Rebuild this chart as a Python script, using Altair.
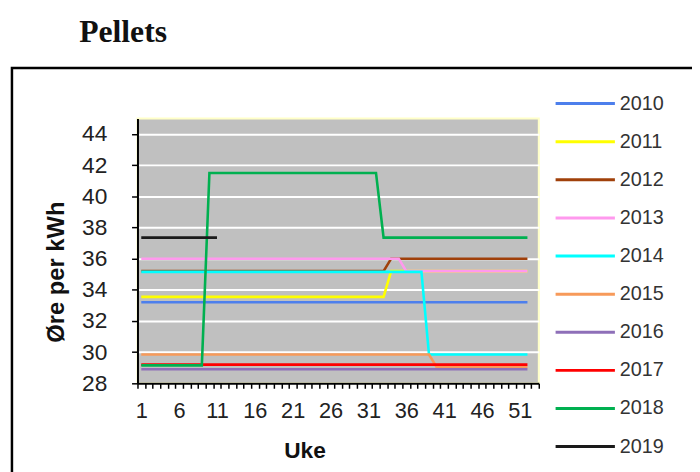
import altair as alt
import pandas as pd

years = ["2010", "2011", "2012", "2013", "2014", "2015", "2016", "2017", "2018", "2019"]
colors = ["#4d7fec", "#ffff00", "#a0400a", "#ff99ee", "#00ffff",
          "#f79a5a", "#8e6fb8", "#ff0000", "#00b050", "#1a1a1a"]

# (week, value) breakpoints; lines are straight between them
weeks_2010 = [1, 52];              vals_2010 = [33.2, 33.2]
weeks_2011 = [1, 33, 34, 52];      vals_2011 = [33.55, 33.55, 35.2, 35.2]
weeks_2012 = [1, 33, 34, 52];      vals_2012 = [35.2, 35.2, 36.0, 36.0]
weeks_2013 = [1, 35, 36, 52];      vals_2013 = [36.0, 36.0, 35.2, 35.2]
weeks_2014 = [1, 38, 39, 52];      vals_2014 = [35.15, 35.15, 29.85, 29.85]
weeks_2015 = [1, 39, 40, 52];      vals_2015 = [29.85, 29.85, 29.05, 29.05]
weeks_2016 = [1, 52];              vals_2016 = [28.9, 28.9]
weeks_2017 = [1, 52];              vals_2017 = [29.2, 29.2]
weeks_2018 = [1, 9, 10, 32, 33, 52]; vals_2018 = [29.15, 29.15, 41.5, 41.5, 37.35, 37.35]
weeks_2019 = [1, 11];              vals_2019 = [37.35, 37.35]

series = {
    "2010": (weeks_2010, vals_2010), "2011": (weeks_2011, vals_2011),
    "2012": (weeks_2012, vals_2012), "2013": (weeks_2013, vals_2013),
    "2014": (weeks_2014, vals_2014), "2015": (weeks_2015, vals_2015),
    "2016": (weeks_2016, vals_2016), "2017": (weeks_2017, vals_2017),
    "2018": (weeks_2018, vals_2018), "2019": (weeks_2019, vals_2019),
}

y_ticks = [28, 30, 32, 34, 36, 38, 40, 42, 44]
week_categories = list(range(1, 54))

rows = []
for i, y in enumerate(years):
    w, v = series[y]
    for a, b in zip(w, v):
        rows.append({"Year": y, "order": i, "Uke": a, "Pris": b})
df = pd.DataFrame(rows)
legend_df = pd.DataFrame({"Year": years})

FONT = "Liberation Sans"
color_scale = alt.Scale(domain=years, range=colors)

lines = alt.Chart(df).mark_line(strokeWidth=2.6).encode(
    x=alt.X("Uke:O", bandPosition=0.5,
            scale=alt.Scale(type="band", domain=week_categories, paddingInner=0, paddingOuter=0),
            axis=alt.Axis(labelExpr="datum.value % 5 == 1 ? datum.label : ''",
                          labelAngle=0, labelOverlap=False, labelBound=False, labelFlush=False,
                          labelFontSize=22, labelFont=FONT, labelColor="#222222",
                          labelPadding=13, tickSize=5, tickColor="black", tickWidth=1.5,
                          tickBand="extent",
                          domainColor="black", domainWidth=2, grid=False,
                          title="Uke", titleFont=FONT, titleFontSize=23, titleFontWeight="bold",
                          titleColor="#111111", titleX=169, titleY=75,
                          titleBaseline="alphabetic")),
    y=alt.Y("Pris:Q",
            scale=alt.Scale(domain=[28, 45], nice=False, zero=False),
            axis=alt.Axis(values=y_ticks, labelFontSize=23, labelFont=FONT,
                          labelColor="#222222", labelPadding=25, tickSize=6,
                          tickColor="black", tickWidth=1.5, domainColor="black",
                          domainWidth=2, grid=True, gridColor="white", gridWidth=2,
                          title="Øre per kWh", titleFont=FONT, titleFontSize=24,
                          titleFontWeight="bold", titleColor="#111111",
                          titleX=-82, titleY=155, titleBaseline="middle", titleAngle=270)),
    color=alt.Color("Year:N", scale=color_scale, legend=None),
    order=alt.Order("Uke:Q"),
)

legend_y = alt.Y("Year:N", axis=None,
                 scale=alt.Scale(type="point", domain=years, range=[-15, 332], padding=0))

legend_lines = alt.Chart(legend_df).mark_rule(strokeWidth=3).encode(
    y=legend_y, x=alt.value(423), x2=alt.value(483),
    color=alt.Color("Year:N", scale=color_scale, legend=None),
)

legend_text = alt.Chart(legend_df).mark_text(
    align="left", baseline="middle", font=FONT, fontSize=20, color="#333333"
).encode(y=legend_y, x=alt.value(488), text="Year:N")

one = alt.Data(values=[{"t": 1}])

box = alt.Chart(one).mark_rect(fill=None, stroke="black", strokeWidth=2.5).encode(
    x=alt.value(-127), x2=alt.value(700), y=alt.value(-51), y2=alt.value(600)
)

outer_title = alt.Chart(one).mark_text(
    text="Pellets", font="Liberation Serif", fontSize=32, fontWeight="bold",
    align="left", baseline="alphabetic", color="#111111"
).encode(x=alt.value(-59), y=alt.value(-77))

chart = alt.layer(lines, legend_lines, legend_text, box, outer_title).resolve_scale(
    y="independent"
).properties(
    width=406, height=268,
    title=alt.TitleParams("Pellets", font=FONT, fontSize=22, fontWeight="bold",
                          color="#111111", anchor="middle", offset=10),
    padding={"left": 131, "top": 109, "right": 155, "bottom": 87},
    autosize=alt.AutoSizeParams(type="none"),
).configure_view(fill="#c0c0c0", stroke="#ffffc8", strokeWidth=2)

chart.save("out.html", embed_options={"renderer": "svg", "actions": False})
